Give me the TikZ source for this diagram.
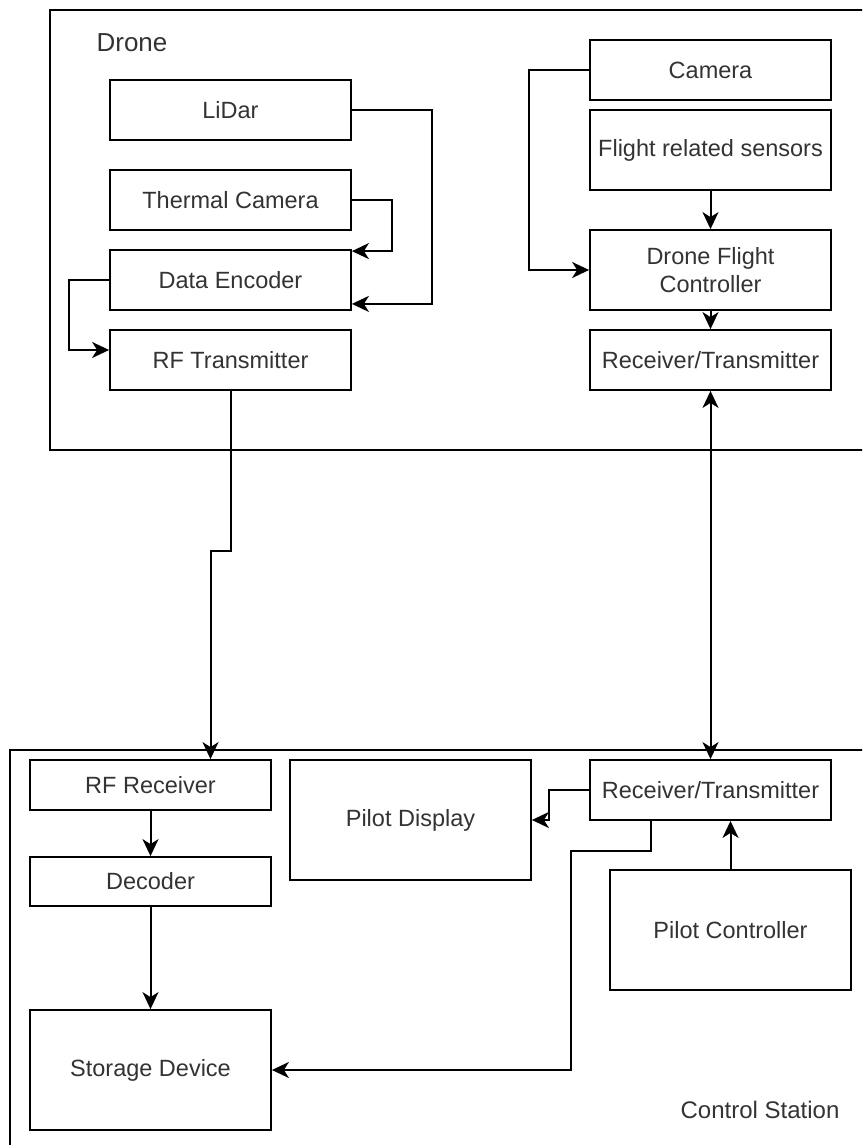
\documentclass[tikz,border=0pt]{standalone}
\usepackage{fontspec}
\setmainfont{Liberation Sans}
\usetikzlibrary{arrows.meta}
\definecolor{labelgray}{HTML}{333333}
\tikzset{
  block/.style   = {shape=rectangle, draw, line width=1.8pt, align=center,
                    minimum width=241pt, inner sep=2pt, text=labelgray,
                    font=\fontsize{23.5}{28}\selectfont},
  frame/.style   = {draw, line width=1.8pt},
  caption/.style = {text=labelgray, font=\fontsize{24}{28}\selectfont},
  link/.style    = {draw, line width=2pt, -{Stealth[length=17pt,width=16pt,inset=5pt]}},
  twoway/.style  = {link, {Stealth[length=17pt,width=16pt,inset=5pt]}-{Stealth[length=17pt,width=16pt,inset=5pt]}}
}

\begin{document}
\begin{tikzpicture}
  [
    x = 1pt,
    y = -1pt
  ]
  \clip (0,0) rectangle (862,1145);
  % containers
  \draw [frame] (880,10) -| (50,450) -- (880,450);
  \draw [frame] (880,750) -| (10,1160);
  \node [caption, font=\fontsize{26}{30}\selectfont] (dronelbl) at (132,43) {Drone};
  \node [caption] (stationlbl) at (760,1110) {Control Station};

  % drone, left column
  \node [block, minimum height=60pt] (lidar)   at (230.5,110) {LiDar};
  \node [block, minimum height=60pt] (thermal) at (230.5,200) {Thermal Camera};
  \node [block, minimum height=60pt] (encoder) at (230.5,280) {Data Encoder};
  \node [block, minimum height=60pt] (rftx)    at (230.5,360) {RF Transmitter};
  % drone, right column
  \node [block, minimum height=60pt] (camera)  at (710.5,70)  {Camera};
  \node [block, minimum height=80pt] (sensors) at (710.5,150) {Flight related sensors};
  \node [block, minimum height=80pt] (dfc)     at (710.5,270) {Drone Flight\\Controller};
  \node [block, minimum height=60pt] (rtdrone) at (710.5,360) {Receiver/Transmitter};

  % control station
  \node [block, minimum height=50pt]  (rfrx)    at (150.5,785)  {RF Receiver};
  \node [block, minimum height=49pt]  (decoder) at (150.5,881.5) {Decoder};
  \node [block, minimum height=120pt] (storage) at (150.5,1070) {Storage Device};
  \node [block, minimum height=120pt] (display) at (410.5,820)  {Pilot Display};
  \node [block, minimum height=60pt]  (rtstat)  at (710.5,790)  {Receiver/Transmitter};
  \node [block, minimum height=120pt] (pilot)   at (730.5,930)  {Pilot Controller};

  % connectors
  \draw [link] (lidar.east) -- ++(80,0) |- ([yshift=7pt]encoder.south east);
  \draw [link] (thermal.east) -- ++(40,0) |- ([yshift=-2pt]encoder.north east);
  \draw [link] (encoder.west) -- ++(-40,0) |- ([yshift=10pt]rftx.west);
  \draw [link] (rftx.south) -- ++(0,160) -| ([xshift=60pt]rfrx.north);
  \draw [link] (camera.west) -- ++(-60,0) |- (dfc.west);
  \draw [link] (sensors.south) -- (dfc.north);
  \draw [link] (dfc.south) -- (rtdrone.north);
  \draw [twoway] (rtdrone.south) -- (rtstat.north);
  \draw [link] (rfrx.south) -- (decoder.north);
  \draw [link] (decoder.south) -- (storage.north);
  \draw [link] (rtstat.west) -- ++(-40,0) |- (display.east);
  \draw [link] ([xshift=-60pt]rtstat.south) -- ++(0,30) -- ++(-80,0) |- (storage.east);
  \draw [link] (pilot.north) -- (pilot.north |- rtstat.south);
\end{tikzpicture}
\end{document}
